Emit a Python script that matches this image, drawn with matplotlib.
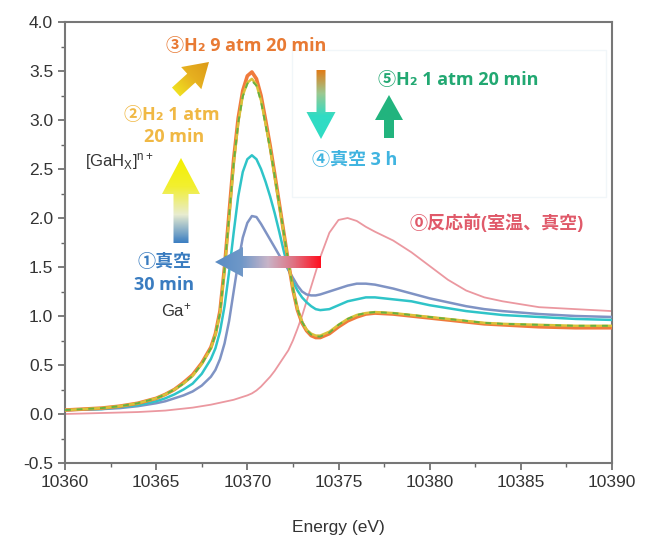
import numpy as np
import matplotlib.pyplot as plt
from matplotlib.patches import FancyArrow, Rectangle
from matplotlib.colors import LinearSegmentedColormap

plt.rcParams['font.family'] = ['Liberation Sans', 'DejaVu Sans']
plt.rcParams['mathtext.fontset'] = 'custom'
plt.rcParams['mathtext.rm'] = 'Liberation Sans'
plt.rcParams['mathtext.it'] = 'Liberation Sans'

# energies (eV) shared by all spectra
energy = [10360, 10361, 10362, 10363, 10364, 10365, 10365.5, 10366, 10366.5, 10367,
          10367.5, 10368, 10368.25, 10368.5, 10368.75, 10369, 10369.25, 10369.5,
          10369.75, 10370, 10370.25, 10370.5, 10370.75, 10371, 10371.25, 10371.5,
          10371.75, 10372, 10372.25, 10372.5, 10372.75, 10373, 10373.25, 10373.5,
          10373.75, 10374, 10374.5, 10375, 10375.5, 10376, 10376.5, 10377, 10378,
          10379, 10380, 10381, 10382, 10383, 10384, 10386, 10388, 10390]

s0_before = [0.00, 0.005, 0.01, 0.015, 0.02, 0.03, 0.035, 0.045, 0.055, 0.065,
             0.08, 0.095, 0.105, 0.115, 0.125, 0.135, 0.145, 0.16,
             0.175, 0.19, 0.21, 0.24, 0.28, 0.33, 0.38, 0.44,
             0.51, 0.58, 0.65, 0.75, 0.87, 1.00, 1.15, 1.30,
             1.45, 1.60, 1.85, 1.98, 2.00, 1.97, 1.91, 1.86, 1.77,
             1.65, 1.51, 1.37, 1.26, 1.19, 1.15, 1.09, 1.07, 1.05]
s1_vac30 = [0.04, 0.045, 0.05, 0.06, 0.08, 0.11, 0.13, 0.16, 0.19, 0.23,
            0.29, 0.38, 0.45, 0.56, 0.72, 0.95, 1.25, 1.55,
            1.80, 1.95, 2.02, 2.01, 1.94, 1.86, 1.78, 1.70,
            1.62, 1.55, 1.47, 1.39, 1.31, 1.25, 1.22, 1.21,
            1.21, 1.22, 1.25, 1.28, 1.31, 1.33, 1.33, 1.32, 1.28,
            1.23, 1.18, 1.14, 1.10, 1.07, 1.05, 1.02, 1.00, 0.99]
s2_h2_1 = [0.04, 0.05, 0.06, 0.08, 0.11, 0.16, 0.20, 0.25, 0.31, 0.39,
           0.51, 0.67, 0.81, 1.03, 1.47, 2.00, 2.55, 2.97,
           3.25, 3.38, 3.42, 3.36, 3.20, 2.96, 2.71, 2.42,
           2.13, 1.84, 1.55, 1.28, 1.07, 0.94, 0.86, 0.82,
           0.80, 0.80, 0.84, 0.91, 0.97, 1.01, 1.03, 1.04, 1.03,
           1.01, 0.99, 0.97, 0.95, 0.93, 0.92, 0.91, 0.90, 0.90]
s3_h2_9 = [0.04, 0.05, 0.06, 0.08, 0.11, 0.16, 0.20, 0.25, 0.32, 0.40,
           0.52, 0.68, 0.82, 1.05, 1.50, 2.05, 2.60, 3.02,
           3.30, 3.45, 3.49, 3.42, 3.25, 3.00, 2.74, 2.45,
           2.15, 1.85, 1.55, 1.27, 1.06, 0.93, 0.85, 0.80,
           0.78, 0.78, 0.82, 0.89, 0.95, 0.99, 1.02, 1.03, 1.02,
           1.00, 0.98, 0.96, 0.94, 0.92, 0.91, 0.89, 0.88, 0.88]
s4_vac3h = [0.04, 0.045, 0.05, 0.07, 0.09, 0.13, 0.16, 0.20, 0.25, 0.31,
            0.41, 0.56, 0.67, 0.84, 1.10, 1.45, 1.85, 2.22,
            2.47, 2.60, 2.64, 2.60, 2.50, 2.37, 2.22, 2.05,
            1.86, 1.66, 1.48, 1.35, 1.26, 1.19, 1.14, 1.10,
            1.07, 1.06, 1.07, 1.11, 1.15, 1.17, 1.19, 1.19, 1.17,
            1.15, 1.11, 1.08, 1.05, 1.03, 1.01, 0.99, 0.97, 0.96]
s5_h2_1b = [0.04, 0.05, 0.06, 0.08, 0.11, 0.16, 0.20, 0.25, 0.31, 0.39,
            0.51, 0.67, 0.81, 1.03, 1.48, 2.02, 2.56, 2.97,
            3.24, 3.37, 3.40, 3.35, 3.19, 2.95, 2.71, 2.43,
            2.14, 1.85, 1.55, 1.28, 1.07, 0.94, 0.86, 0.81,
            0.79, 0.79, 0.83, 0.91, 0.97, 1.01, 1.03, 1.04, 1.03,
            1.01, 0.99, 0.97, 0.95, 0.93, 0.92, 0.91, 0.90, 0.90]

W, H = 646, 537
fig = plt.figure(figsize=(W / 100, H / 100), dpi=100)
ax = fig.add_axes([65 / W, 1 - 463 / H, (612 - 65) / W, (463 - 22) / H])

ax.plot(energy, s0_before, color='#eb98a0', lw=1.3, zorder=2)
ax.plot(energy, s1_vac30, color='#7f93c4', lw=1.8, zorder=3)
ax.plot(energy, s4_vac3h, color='#2fc4c8', lw=1.8, zorder=4)
ax.plot(energy, s3_h2_9, color='#f07a3c', lw=2.6, zorder=5)
ax.plot(energy, s2_h2_1, color='#d8c23a', lw=1.8, zorder=6)
ax.plot(energy, s5_h2_1b, color='#68b040', lw=1.4, ls=(0, (3, 3)), zorder=7)

ax.set_xlim(10360, 10390)
ax.set_ylim(-0.5, 4.0)
ax.set_xticks(np.arange(10360, 10391, 5))
ax.set_xticks(np.arange(10360, 10391, 2.5), minor=True)
ax.set_yticks(np.arange(-0.5, 4.01, 0.5))
ax.set_yticks(np.arange(-0.5, 4.01, 0.25), minor=True)
ax.yaxis.set_major_formatter(plt.FormatStrFormatter('%.1f'))
ax.tick_params(which='major', length=5, width=1.2, color='#666666',
               labelsize=12.5, labelcolor='#333333', direction='out')
ax.tick_params(which='minor', length=3, width=1.0, color='#666666', direction='out')
for sp in ax.spines.values():
    sp.set_color('#777777')
    sp.set_linewidth(1.5)
ax.set_xlabel('Energy (eV)', fontsize=12.5, color='#333333', labelpad=22)

# overlay in pixel coordinates for annotations
ov = fig.add_axes([0, 0, 1, 1])
ov.set_xlim(0, W)
ov.set_ylim(H, 0)
ov.axis('off')
ov.patch.set_visible(False)


def grad_arrow(x0, y0, x1, y1, colors, width=11, hw=28, hl=22):
    dx, dy = x1 - x0, y1 - y0
    arr = FancyArrow(x0, y0, dx, dy, width=width, head_width=hw, head_length=hl,
                     length_includes_head=True, fc='none', ec='none')
    ov.add_patch(arr)
    xs = np.linspace(min(x0, x1) - hw, max(x0, x1) + hw, 120)
    ys = np.linspace(min(y0, y1) - hw, max(y0, y1) + hw, 120)
    X, Y = np.meshgrid(xs, ys)
    L2 = dx * dx + dy * dy
    T = np.clip(((X - x0) * dx + (Y - y0) * dy) / L2, 0, 1)
    cmap = LinearSegmentedColormap.from_list('g', colors)
    im = ov.imshow(T, cmap=cmap, vmin=0, vmax=1, origin='lower',
                   extent=(xs[0], xs[-1], ys[0], ys[-1]), interpolation='bilinear',
                   zorder=5)
    im.set_clip_path(arr)


# faint frame around the ④/⑤ labels
ov.add_patch(Rectangle((292, 50), 314, 147, fill=False, ec='#f1f6f9', lw=1.0))

grad_arrow(181, 243, 181, 158, ['#3d7fc2', '#e8ecd0', '#f2ef30', '#f4f000'],
           width=15, hw=38, hl=36)
grad_arrow(176, 92, 209, 62, ['#f0e020', '#e6b020', '#dc9a18'], width=12, hw=30, hl=24)
grad_arrow(321, 70, 321, 139, ['#e07c18', '#9cc890', '#30dcc4', '#30dcc4'],
           width=9, hw=29, hl=27)
grad_arrow(389, 138, 389, 95, ['#22b47e', '#22b47e'], width=10, hw=28, hl=25)
grad_arrow(321, 262, 215, 262, ['#ff1020', '#e07080', '#c8b4c8', '#6f98c8', '#5a8cc4'],
           width=12, hw=30, hl=28)

cjk = ['Open Sans', 'Noto Sans CJK JP', 'DejaVu Sans']
fs = 13
ov.text(246, 46, '③H₂ 9 atm 20 min', color='#e87a34', fontsize=fs, weight='bold',
        ha='center', va='center', family=cjk)
ov.text(172, 115, '②H₂ 1 atm', color='#f0b844', fontsize=fs, weight='bold',
        ha='center', va='center', family=cjk)
ov.text(174, 137, '20 min', color='#f0b844', fontsize=fs, weight='bold',
        ha='center', va='center', family=cjk)
ov.text(85, 162, r'[GaH$_{\rm X}$]$^{\rm n+}$', color='#333333', fontsize=12,
        ha='left', va='center')
ov.text(164, 262, '①真空', color='#3a7cc0', fontsize=fs, weight='bold',
        ha='center', va='center', family=cjk)
ov.text(164, 285, '30 min', color='#3a7cc0', fontsize=fs, weight='bold',
        ha='center', va='center', family=cjk)
ov.text(176, 310, r'Ga$^{+}$', color='#333333', fontsize=12,
        ha='center', va='center')
ov.text(312, 160, '④真空 3 h', color='#40b4e0', fontsize=fs, weight='bold',
        ha='left', va='center', family=cjk)
ov.text(378, 80, '⑤H₂ 1 atm 20 min', color='#22a872', fontsize=fs, weight='bold',
        ha='left', va='center', family=cjk)
ov.text(410, 224, '⓪反応前(室温、真空)', color='#e05a6a', fontsize=fs, weight='bold',
        ha='left', va='center', family=cjk)

fig.savefig('out.png', dpi=100)
